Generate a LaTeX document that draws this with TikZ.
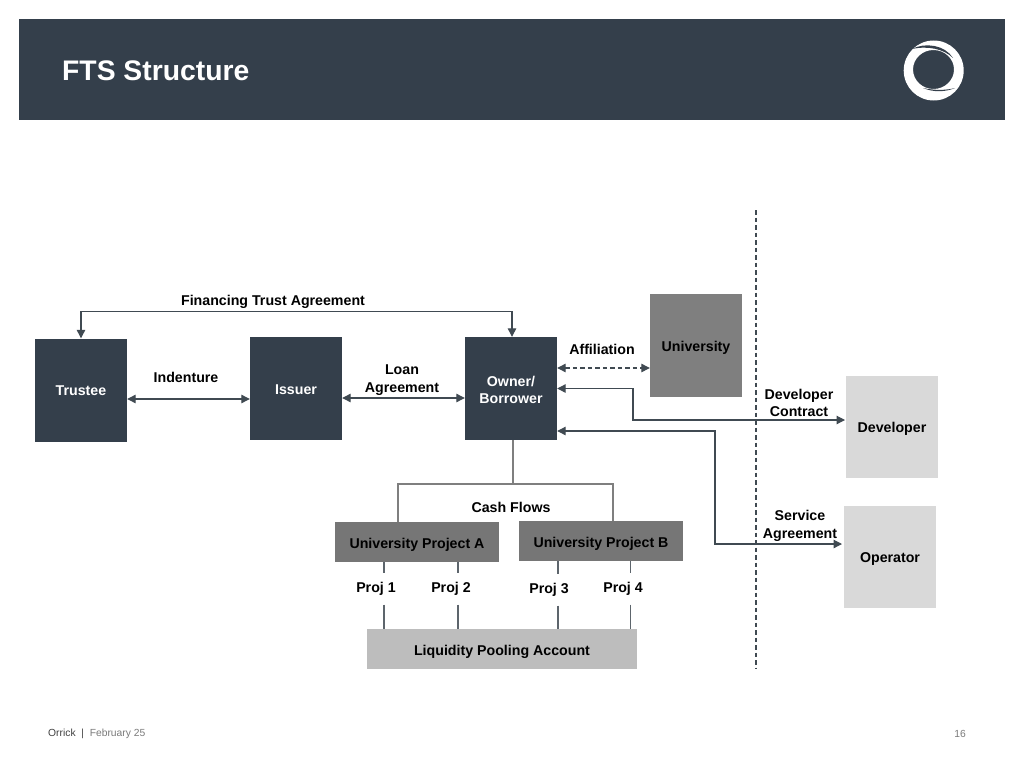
\documentclass[tikz,border=0pt]{standalone}
\usepackage{fontspec}
\setmainfont{Liberation Sans}
\usetikzlibrary{arrows.meta,calc}
\definecolor{navy}{HTML}{343F4B}
\definecolor{midgrey}{HTML}{7F7F7F}
\definecolor{projgrey}{HTML}{767676}
\definecolor{lightgrey}{HTML}{D9D9D9}
\definecolor{poolgrey}{HTML}{BDBDBD}
\definecolor{linecol}{HTML}{404A52}
\definecolor{footgrey}{HTML}{7A7A7A}
\newcommand\dnshift[2]{\raisebox{-#1pt}[\height][\depth]{#2}}
\tikzset{
  boxbase/.style={draw=none,inner sep=0pt,align=center,font=\fontsize{14.2}{17}\selectfont\bfseries},
  darkbox/.style={boxbase,fill=navy,text=white,minimum width=92pt,minimum height=103pt},
  unibox/.style={boxbase,fill=midgrey,text=black,minimum width=92pt,minimum height=103pt},
  sidebox/.style={boxbase,fill=lightgrey,text=black,minimum width=92pt,minimum height=102pt},
  projbox/.style={boxbase,fill=projgrey,text=black,minimum width=164pt,minimum height=40pt},
  poolbox/.style={boxbase,fill=poolgrey,text=black,minimum width=270pt,minimum height=40pt},
  lbl/.style={inner sep=0pt,align=center,text=black,font=\fontsize{14.2}{17.5}\selectfont\bfseries},
  projlbl/.style={lbl,minimum height=31pt},
  link/.style={draw=linecol,line width=1.15pt,line join=miter},
  flow/.style={draw=midgrey,line width=1.4pt},
  stub/.style={draw=linecol!85!white,line width=1.15pt},
  tip/.style={{Triangle[length=8.5pt,width=8.5pt]}-{Triangle[length=8.5pt,width=8.5pt]}},
}
\begin{document}
\begin{tikzpicture}[x=1pt,y=-1pt]
\useasboundingbox (0,0) rectangle (1024,768);
% header
\fill[navy] (19,19) rectangle (1005,120);
\node[anchor=west,inner sep=0pt,text=white,font=\fontsize{28.3}{32}\selectfont\bfseries] (title) at (62,71) {FTS Structure};
% logo
\fill[white,even odd rule] (933.7,70.5) ellipse [x radius=30,y radius=30] (933.5,69.5) ellipse [x radius=20.5,y radius=19.5];
\fill[navy] (912,49) .. controls (925,42) and (945,45) .. (953,58) .. controls (944,49) and (928,45.5) .. (912,49) -- cycle;
\fill[navy] (923,88) .. controls (933,92.5) and (946,92) .. (955,88) .. controls (946,90.5) and (934,90.5) .. (923,88) -- cycle;
% dashed divider
\coordinate (divtop) at (756,210);
\coordinate (divbot) at (756,669);
\draw[linecol,line width=1.3pt,dash pattern=on 4.5pt off 3pt] (divtop) -- (divbot);
% boxes
\node[darkbox] (trustee) at (81,390) {\dnshift{1}{Trustee}};
\node[darkbox] (issuer) at (296,388.5) {\dnshift{1}{Issuer}};
\node[darkbox] (owner) at (511,388.5) {\dnshift{1}{Owner/}\\\dnshift{1}{Borrower}};
\node[unibox] (university) at (696,345.5) {\dnshift{2}{University}};
\node[sidebox] (developer) at (892,427) {\dnshift{2}{Developer}};
\node[sidebox] (operator) at (890,556.5) {\dnshift{3}{Operator}};
\node[projbox] (projA) at (417,542) {\dnshift{3}{University Project A}};
\node[projbox] (projB) at (601,541) {\dnshift{3}{University Project B}};
\node[poolbox] (pool) at (502,649) {\dnshift{3}{Liquidity Pooling Account}};
% labels
\node[lbl] (lfin) at (273,302) {Financing Trust Agreement};
\node[lbl] (lind) at (186,377.5) {Indenture};
\node[lbl] (lloan) at (402,380) {Loan\\Agreement};
\node[lbl] (laff) at (602,349.5) {Affiliation};
\node[lbl] (ldev) at (799,403) {Developer\\Contract};
\node[lbl] (lserv) at (800,526) {Service\\Agreement};
\node[lbl] (lcash) at (511,507) {Cash Flows};
\node[projlbl] (p1) at (376,589) {Proj 1};
\node[projlbl] (p2) at (451,589) {Proj 2};
\node[projlbl] (p3) at (549,590) {Proj 3};
\node[projlbl] (p4) at (623,589) {Proj 4};
% top agreement
\coordinate (finbend) at (296,311.5);
\coordinate (ownertop) at (512,0);
\draw[link,tip] (trustee.north) |- (finbend) -| (ownertop |- owner.north);
% horizontal arrows
\draw[link,tip] (trustee.east |- 0,399) -- (issuer.west |- 0,399);
\draw[link,tip] (issuer.east |- 0,398) -- (owner.west |- 0,398);
\draw[link,tip,dash pattern=on 4.5pt off 3pt] (owner.east |- 0,368) -- (university.west |- 0,368);
% developer and operator
\coordinate (devbend) at (633,420);
\coordinate (opbend) at (715,544);
\coordinate (devend) at (845,420);
\coordinate (opend) at (842,544);
\draw[link,tip] (owner.east) -| (devbend) -- (devend);
\draw[link,tip] (owner.east |- 0,431) -| (opbend) -- (opend);
% cash flows
\coordinate (cashjoin) at (513,484);
\coordinate (cashA) at (398,484);
\coordinate (cashB) at (613,484);
\draw[flow] (cashjoin |- owner.south) -- (cashjoin);
\draw[flow] (projA.north -| cashA) -- (cashA) -- (cashB) -- (projB.north -| cashB);
% project stubs
\coordinate (x1) at (384,0);
\coordinate (x2) at (458,0);
\coordinate (x3) at (558,0);
\coordinate (x4) at (630.5,0);
\draw[stub] (x1 |- projA.south) -- (x1 |- p1.north) (x1 |- p1.south) -- (x1 |- pool.north);
\draw[stub] (x2 |- projA.south) -- (x2 |- p2.north) (x2 |- p2.south) -- (x2 |- pool.north);
\draw[stub] (x3 |- projB.south) -- (x3 |- p3.north) (x3 |- p3.south) -- (x3 |- pool.north);
\draw[stub] (x4 |- projB.south) -- (x4 |- p4.north) (x4 |- p4.south) -- (x4 |- pool.north);
% footer
\node[anchor=west,inner sep=0pt,font=\fontsize{10.3}{12}\selectfont,text=black!75] (foot) at (48,733.8) {Orrick \ | \ \textcolor{footgrey}{February 25}};
\node[inner sep=0pt,font=\fontsize{10.3}{12}\selectfont,text=footgrey] (page) at (960,733.5) {16};
\end{tikzpicture}
\end{document}
